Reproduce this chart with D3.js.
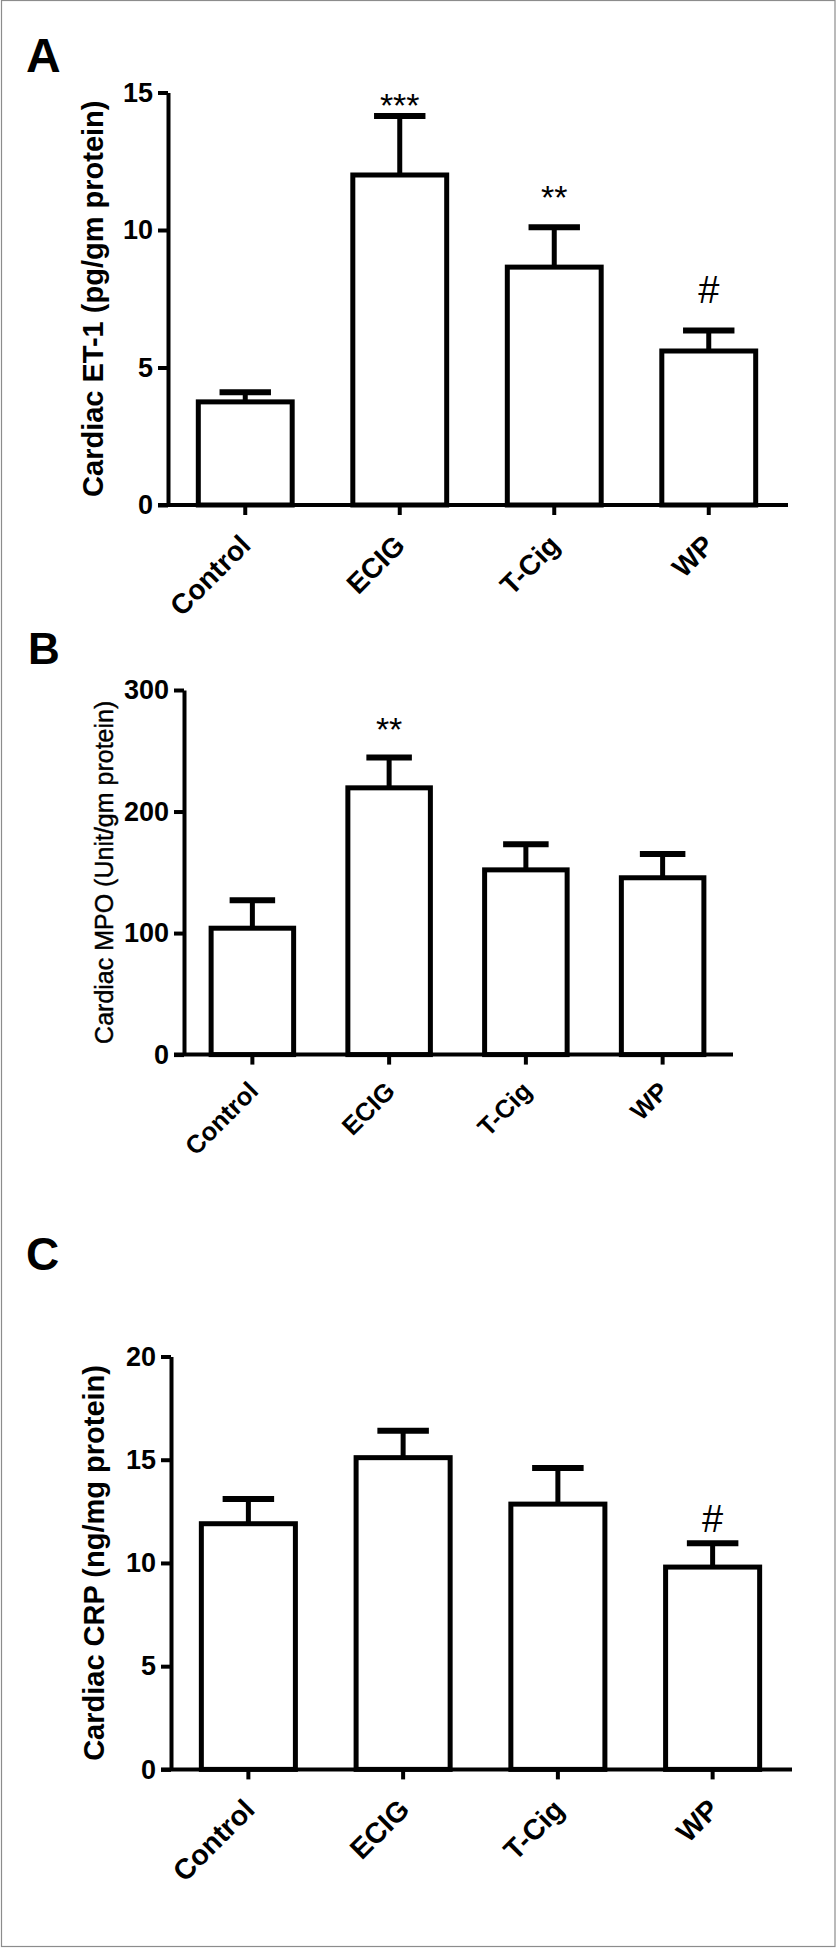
<!DOCTYPE html>
<html>
<head>
<meta charset="utf-8">
<script src="https://cdn.jsdelivr.net/npm/d3@7"></script>
<style>
  body { margin: 0; background: #fff; }
  svg { display: block; }
  text { font-family: "Liberation Sans", Arial, sans-serif; fill: #000; }
</style>
</head>
<body>
<div id="fig"></div>
<script>
// groups shared by the three panels
const groups = ['Control', 'ECIG', 'T-Cig', 'WP'];

// panel A - cardiac ET-1
const et1Mean = [3.75, 12.0, 8.65, 5.6];
const et1Sem = [0.35, 2.15, 1.45, 0.75];
const et1Ticks = [0, 5, 10, 15];
const et1Sig = ['', '***', '**', '#'];
const et1SigAt = [null, 14.1, 10.75, 7.35];

// panel B - cardiac MPO
const mpoMean = [104, 219.5, 152, 145.5];
const mpoSem = [23, 25, 21, 19.5];
const mpoTicks = [0, 100, 200, 300];
const mpoSig = ['', '**', '', ''];
const mpoSigAt = [null, 258, null, null];

// panel C - cardiac CRP
const crpMean = [11.9, 15.1, 12.85, 9.8];
const crpSem = [1.2, 1.3, 1.75, 1.15];
const crpTicks = [0, 5, 10, 15, 20];
const crpSig = ['', '', '', '#'];
const crpSigAt = [null, null, null, 11.5];

const W = 839, H = 1948;

const svg = d3.select('#fig').append('svg')
  .attr('width', W)
  .attr('height', H);

// thin grey frame round the figure
svg.append('rect')
  .attr('x', 1.5).attr('y', 0.5)
  .attr('width', 833.5).attr('height', 1946)
  .attr('fill', 'none')
  .attr('stroke', '#8c8c8c')
  .attr('stroke-width', 1.2);

function drawPanel(p) {
  const y = d3.scaleLinear()
    .domain([0, p.max])
    .range([p.y0, p.yTop]);

  const x = d3.scaleBand()
    .domain(groups)
    .range([p.axisX, p.xEnd])
    .paddingInner(0.36)
    .paddingOuter(0.18);

  const g = svg.append('g');
  const bw = x.bandwidth();
  const sw = 5; // bar outline

  // panel letter
  g.append('text')
    .attr('x', p.letterX).attr('y', p.letterY)
    .style('font-size', p.letterSize + 'px')
    .style('font-weight', 'bold')
    .text(p.letter);

  const rows = groups.map((k, i) => ({
    k: k, m: p.mean[i], e: p.sem[i], s: p.sig[i], sa: p.sigAt[i]
  }));

  // error bars (upper only), drawn under the bars
  g.selectAll('.err').data(rows).join('line')
    .attr('x1', d => x(d.k) + bw / 2).attr('x2', d => x(d.k) + bw / 2)
    .attr('y1', d => y(d.m)).attr('y2', d => y(d.m + d.e))
    .attr('stroke', '#000').attr('stroke-width', 5);

  g.selectAll('.cap').data(rows).join('line')
    .attr('x1', d => x(d.k) + bw / 2 - bw * 0.26)
    .attr('x2', d => x(d.k) + bw / 2 + bw * 0.26)
    .attr('y1', d => y(d.m + d.e)).attr('y2', d => y(d.m + d.e))
    .attr('stroke', '#000').attr('stroke-width', 6);

  g.selectAll('.bar').data(rows).join('rect')
    .attr('x', d => x(d.k) + sw / 2)
    .attr('width', bw - sw)
    .attr('y', d => y(d.m))
    .attr('height', d => y(0) - y(d.m))
    .attr('fill', '#fff')
    .attr('stroke', '#000')
    .attr('stroke-width', sw);

  // significance marks
  g.selectAll('.sig').data(rows.filter(d => d.s)).join('text')
    .attr('x', d => x(d.k) + bw / 2)
    .attr('y', d => y(d.sa))
    .attr('text-anchor', 'middle')
    .style('font-size', d => d.s === '#' ? '38px' : '34px')
    .text(d => d.s);

  // y axis
  const ya = g.append('g')
    .attr('transform', `translate(${p.axisX},0)`)
    .call(d3.axisLeft(y).tickValues(p.ticks).tickSize(10).tickSizeOuter(0).tickPadding(5));
  ya.selectAll('path, line').attr('stroke', '#000').attr('stroke-width', 4);
  ya.selectAll('text')
    .style('font-size', '27px')
    .style('font-weight', 'bold')
    .style('font-family', '"Liberation Sans", Arial, sans-serif');

  // x axis
  const xa = g.append('g')
    .attr('transform', `translate(0,${p.y0})`)
    .call(d3.axisBottom(x).tickSize(10).tickSizeOuter(0).tickFormat(''));
  xa.select('.domain').remove();
  xa.selectAll('line').attr('stroke', '#000').attr('stroke-width', 4);
  g.append('line')
    .attr('x1', p.axisX - 10).attr('x2', p.xEnd + 2)
    .attr('y1', p.y0).attr('y2', p.y0)
    .attr('stroke', '#000').attr('stroke-width', 4);

  g.selectAll('.xl').data(groups).join('text')
    .attr('transform', d => `translate(${x(d) + bw / 2 + p.labDx},${p.y0 + p.labDy}) rotate(-45)`)
    .attr('text-anchor', 'end')
    .style('font-size', p.labSize + 'px')
    .style('font-weight', 'bold')
    .text(d => d);

  // y axis title
  g.append('text')
    .attr('transform', `translate(${p.titleX},${(p.y0 + p.yTop) / 2}) rotate(-90)`)
    .attr('text-anchor', 'middle')
    .style('font-size', p.titleSize + 'px')
    .style('font-weight', p.titleWeight)
    .style('stroke', p.titleWeight === 'normal' ? '#000' : 'none')
    .style('stroke-width', 0.4)
    .text(p.title);
}

drawPanel({
  letter: 'A', letterX: 26, letterY: 72, letterSize: 48,
  mean: et1Mean, sem: et1Sem, ticks: et1Ticks, sig: et1Sig, sigAt: et1SigAt, max: 15,
  axisX: 168, xEnd: 786, y0: 505, yTop: 92.5,
  labSize: 28, labDx: 7, labDy: 42,
  title: 'Cardiac ET-1 (pg/gm protein)', titleX: 103, titleSize: 29, titleWeight: 'bold'
});

drawPanel({
  letter: 'B', letterX: 28, letterY: 664, letterSize: 44,
  mean: mpoMean, sem: mpoSem, ticks: mpoTicks, sig: mpoSig, sigAt: mpoSigAt, max: 300,
  axisX: 184, xEnd: 731, y0: 1054.6, yTop: 690,
  labSize: 25.5, labDx: 7.5, labDy: 38,
  title: 'Cardiac MPO (Unit/gm protein)', titleX: 113, titleSize: 25, titleWeight: 'normal'
});

drawPanel({
  letter: 'C', letterX: 26, letterY: 1270, letterSize: 46,
  mean: crpMean, sem: crpSem, ticks: crpTicks, sig: crpSig, sigAt: crpSigAt, max: 20,
  axisX: 171, xEnd: 790, y0: 1769.4, yTop: 1356.5,
  labSize: 28.5, labDx: 8, labDy: 42,
  title: 'Cardiac CRP (ng/mg protein)', titleX: 104, titleSize: 29, titleWeight: 'bold'
});
</script>
</body>
</html>
